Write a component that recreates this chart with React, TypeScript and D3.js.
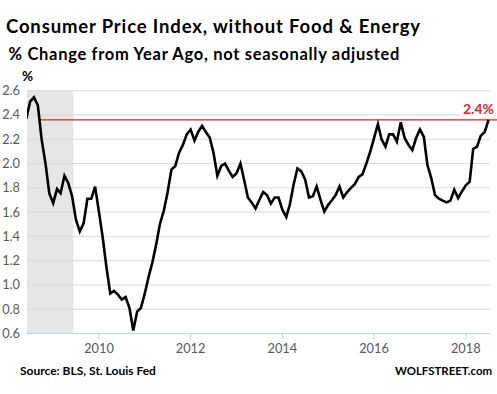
import React from "react";
import * as d3 from "d3";

const startYear = 2008;
const startMonth = 5; // June 2008 (0-based month)
const coreCpi: number[] = [
  2.37, 2.51, 2.545, 2.48, 2.2, 2.0, 1.756, 1.674, 1.79, 1.756,
  1.9, 1.84, 1.73, 1.54, 1.44, 1.51, 1.71, 1.71, 1.81, 1.6,
  1.38, 1.15, 0.93, 0.95, 0.92, 0.88, 0.9, 0.81, 0.625, 0.78,
  0.81, 0.93, 1.07, 1.18, 1.33, 1.5, 1.61, 1.76, 1.95, 1.98,
  2.09, 2.155, 2.24, 2.28, 2.19, 2.26, 2.31, 2.26, 2.215, 2.09,
  1.9, 1.98, 2.0, 1.94, 1.89, 1.92, 2.0, 1.87, 1.72, 1.68,
  1.63, 1.7, 1.765, 1.74, 1.67, 1.72, 1.72, 1.62, 1.56, 1.66,
  1.83, 1.96, 1.935, 1.87, 1.72, 1.73, 1.81, 1.7, 1.605, 1.66,
  1.7, 1.74, 1.81, 1.72, 1.765, 1.8, 1.83, 1.89, 1.91, 2.0,
  2.095, 2.21, 2.325, 2.2, 2.14, 2.24, 2.24, 2.18, 2.34, 2.21,
  2.155, 2.11, 2.21, 2.28, 2.22, 1.99, 1.88, 1.74, 1.71, 1.695,
  1.68, 1.695, 1.785, 1.715, 1.77, 1.82, 1.85, 2.12, 2.14, 2.23,
  2.26, 2.36,
];
const yTicks: number[] = [0.6, 0.8, 1.0, 1.2, 1.4, 1.6, 1.8, 2.0, 2.2, 2.4, 2.6];
const xTickYears: number[] = [2010, 2012, 2014, 2016, 2018];
const recession: [Date, Date] = [new Date(2007, 11, 1), new Date(2009, 5, 10)];
const title = "Consumer Price Index, without Food & Energy";
const subtitle = "% Change from Year Ago, not seasonally adjusted";
const source = "Source: BLS, St. Louis Fed";
const brand = "WOLFSTREET.com";
const lastLabel = "2.4%";

const W = 497;
const H = 394;
const plotLeft = 27;
const plotRight = 490;
const plotTop = 90.7;
const plotBottom = 333.5;

export default function App() {
  const data = coreCpi.map((v, i) => ({ date: new Date(startYear, startMonth + i, 1), v }));
  const x = d3
    .scaleTime()
    .domain([data[0].date, data[data.length - 1].date])
    .range([26.3, 488.5]);
  const y = d3.scaleLinear().domain([0.6, 2.6]).range([plotBottom, plotTop]);
  const line = d3
    .line<{ date: Date; v: number }>()
    .x((d) => x(d.date))
    .y((d) => y(d.v));
  const last = data[data.length - 1];
  const font = "Lato, 'Open Sans', sans-serif";
  const recX0 = Math.max(plotLeft, x(recession[0]));
  const recX1 = x(recession[1]);
  const refStart = x(new Date(2008, 8, 12));

  return (
    <svg
      width={W}
      height={H}
      style={{ position: "absolute", left: 0, top: 0, background: "#fff" }}
      fontFamily={font}
    >
      <defs>
        <clipPath id="plotclip">
          <rect x={plotLeft} y={plotTop - 10} width={plotRight - plotLeft} height={plotBottom - plotTop + 10} />
        </clipPath>
      </defs>
      <rect x={0} y={0} width={W} height={H} fill="#fff" />
      <rect x={recX0} y={plotTop} width={recX1 - recX0} height={plotBottom - plotTop} fill="#e6e6e6" />
      {yTicks.slice(1).map((t) => (
        <line key={t} x1={plotLeft} x2={plotRight} y1={y(t)} y2={y(t)} stroke="#d9d9d9" strokeWidth={1} />
      ))}
      <line x1={plotLeft} x2={plotRight} y1={plotBottom} y2={plotBottom} stroke="#c5d0e3" strokeWidth={1} />
      {xTickYears.map((yr) => (
        <line
          key={yr}
          x1={x(new Date(yr, 0, 1))}
          x2={x(new Date(yr, 0, 1))}
          y1={plotBottom}
          y2={plotBottom + 6}
          stroke="#c5d0e3"
          strokeWidth={1}
        />
      ))}
      <rect x={459} y={101} width={W - 459} height={16} fill="#fff" />
      <line x1={refStart} x2={W} y1={y(last.v)} y2={y(last.v)} stroke="#d0262e" strokeWidth={1.3} />
      <path d={line(data) || ""} fill="none" stroke="#000" strokeWidth={2.6} strokeLinejoin="miter" clipPath="url(#plotclip)" />
      {yTicks.map((t) => (
        <text key={t} x={20} y={y(t) + 4.5} textAnchor="end" fontSize={12.8} fill="#595959">
          {t.toFixed(1)}
        </text>
      ))}
      {xTickYears.map((yr) => (
        <text key={yr} x={x(new Date(yr, 0, 1))} y={352.5} textAnchor="middle" fontSize={12.8} fill="#595959">
          {yr}
        </text>
      ))}
      <text x={6} y={33} fontSize={18.5} fontWeight={700} fill="#000" style={{ letterSpacing: "0.85px" }}>
        {title}
      </text>
      <text x={8.5} y={60} fontSize={16.5} fontWeight={700} fill="#000" style={{ letterSpacing: "0.7px" }}>
        {subtitle}
      </text>
      <text x={22} y={81} fontSize={13.5} fontWeight={700} fill="#000">
        %
      </text>
      <text x={494} y={114} textAnchor="end" fontSize={14} fontWeight={700} fill="#e8202a">
        {lastLabel}
      </text>
      <text x={20} y={375} fontSize={12} fontWeight={700} fill="#000">
        {source}
      </text>
      <text x={492} y={375} textAnchor="end" fontSize={11.4} fontWeight={700} fill="#000">
        {brand}
      </text>
    </svg>
  );
}
